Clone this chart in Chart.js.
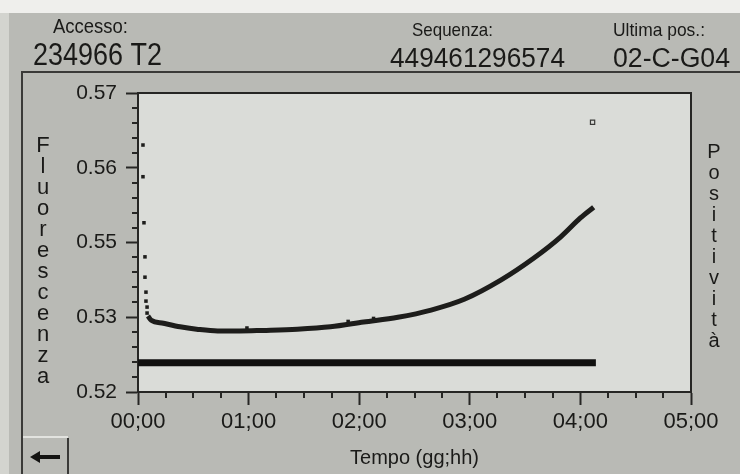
<!DOCTYPE html>
<html>
<head>
<meta charset="utf-8">
<script src="https://cdn.jsdelivr.net/npm/chart.js@4.4.0/dist/chart.umd.min.js"></script>
<style>
  html, body { margin: 0; padding: 0; background: #f0f0ee; }
  canvas { display: block; }
</style>
</head>
<body>
<canvas id="grafico" width="740" height="474"></canvas>
<script>
// curva di fluorescenza del flacone (tempo in giorni)
const tempoCurva = [0.09, 0.12, 0.23, 0.38, 0.53, 0.72, 0.92, 1.13, 1.44, 1.74, 2.04, 2.35, 2.65, 2.95, 3.28, 3.58, 3.82, 4.00, 4.12];
const fluorescenzaCurva = [0.5327, 0.5320, 0.5315, 0.5309, 0.5305, 0.5302, 0.5302, 0.5303, 0.5305, 0.5309, 0.5317, 0.5325, 0.5337, 0.5355, 0.5387, 0.5424, 0.5459, 0.5491, 0.5509];

// letture isolate (inizio incubazione e piccoli salti)
const tempoSparse = [0.045, 0.045, 0.054, 0.063, 0.063, 0.072, 0.072, 0.082, 0.082, 0.985, 1.90, 2.13];
const fluorescenzaSparse = [0.5613, 0.5560, 0.5483, 0.5426, 0.5392, 0.5367, 0.5352, 0.5342, 0.5332, 0.5307, 0.5318, 0.5323];

// barra di soglia e ultima lettura
const tempoSoglia = [0, 4.14];
const valoreSoglia = [0.5249, 0.5249];
const tempoUltima = [4.11];
const valoreUltima = [0.5651];

// assi
const valoriTickX = [0, 1, 2, 3, 4, 5];
const etichetteX = ["00;00", "01;00", "02;00", "03;00", "04;00", "05;00"];
const valoriTickY = [0.52, 0.5325, 0.545, 0.5575, 0.57];
const etichetteY = ["0.52", "0.53", "0.55", "0.56", "0.57"];

// intestazione
const titoliTesta = ["Accesso:", "Sequenza:", "Ultima pos.:"];
const valoriTesta = ["234966 T2", "449461296574", "02-C-G04"];
const titoloY = "Fluorescenza";
const titoloDestra = "Positività";

const FONT = '"Liberation Sans", Arial, Helvetica, sans-serif';
const INCHIOSTRO = '#1a1a18';
Chart.defaults.font.family = FONT;

function punti(xs, ys) {
  return xs.map((x, i) => ({ x: x, y: ys[i] }));
}

function scrivi(ctx, testo, x, y, px, larghezza) {
  ctx.save();
  ctx.font = px + 'px ' + FONT;
  const w = ctx.measureText(testo).width;
  ctx.translate(x, y);
  if (larghezza) ctx.scale(larghezza / w, 1);
  ctx.fillText(testo, 0, 0);
  ctx.restore();
}

function lettere(ctx, testo, cx, y0, passo, px) {
  ctx.save();
  ctx.font = px + 'px ' + FONT;
  ctx.textAlign = 'center';
  [...testo].forEach((c, i) => ctx.fillText(c, cx, y0 + i * passo));
  ctx.restore();
}

const schermo = {
  id: 'schermo',
  beforeDraw(chart) {
    const ctx = chart.ctx;
    const a = chart.chartArea;
    ctx.save();
    ctx.fillStyle = '#efefec';
    ctx.fillRect(0, 0, 740, 474);
    ctx.fillStyle = '#d3d4cf';
    ctx.fillRect(0, 13, 9, 461);
    ctx.fillStyle = '#b9bab5';
    ctx.fillRect(9, 13, 731, 461);
    ctx.fillStyle = '#dadcd8';
    ctx.fillRect(a.left, a.top, a.right - a.left, a.bottom - a.top);
    ctx.restore();
  },
  afterDraw(chart) {
    const ctx = chart.ctx;
    const a = chart.chartArea;
    const sx = chart.scales.x;
    const sy = chart.scales.y;
    ctx.save();
    ctx.strokeStyle = '#262624';

    // bordo del riquadro
    ctx.lineWidth = 2;
    ctx.beginPath();
    ctx.moveTo(a.left, a.top);
    ctx.lineTo(a.right, a.top);
    ctx.lineTo(a.right, a.bottom);
    ctx.stroke();

    // tacche minori
    ctx.lineWidth = 2;
    ctx.beginPath();
    for (let k = 1; k < 20; k++) {
      if (k % 4 === 0) continue;
      const px = Math.round(sx.getPixelForValue(k / 4));
      ctx.moveTo(px, a.bottom);
      ctx.lineTo(px, a.bottom + 6);
    }
    for (let k = 1; k < 20; k++) {
      if (k % 5 === 0) continue;
      const py = Math.round(sy.getPixelForValue(0.52 + k * 0.0025));
      ctx.moveTo(a.left - 6, py);
      ctx.lineTo(a.left, py);
    }
    ctx.stroke();

    // cornice dello schermo
    ctx.strokeStyle = '#3a3a38';
    ctx.lineWidth = 2;
    ctx.beginPath();
    ctx.moveTo(740, 72);
    ctx.lineTo(22, 72);
    ctx.lineTo(22, 474);
    ctx.stroke();

    // tasto indietro
    ctx.strokeStyle = '#e2e3df';
    ctx.beginPath();
    ctx.moveTo(23, 437);
    ctx.lineTo(68, 437);
    ctx.stroke();
    ctx.strokeStyle = '#3a3a38';
    ctx.beginPath();
    ctx.moveTo(68, 438);
    ctx.lineTo(68, 474);
    ctx.stroke();
    ctx.fillStyle = '#141412';
    ctx.fillRect(38, 455, 22, 4);
    ctx.beginPath();
    ctx.moveTo(30, 457);
    ctx.lineTo(40, 451);
    ctx.lineTo(40, 463);
    ctx.closePath();
    ctx.fill();

    // testi
    ctx.fillStyle = INCHIOSTRO;
    scrivi(ctx, titoliTesta[0], 53, 33, 20, 75);
    scrivi(ctx, valoriTesta[0], 33, 65, 31, 129);
    scrivi(ctx, titoliTesta[1], 412, 36, 19, 81);
    scrivi(ctx, valoriTesta[1], 390, 67, 27, 175);
    scrivi(ctx, titoliTesta[2], 613, 36, 19, 92);
    scrivi(ctx, valoriTesta[2], 613, 67, 27, 117);

    lettere(ctx, titoloY, 43, 152, 21, 22);
    lettere(ctx, titoloDestra, 714, 158, 21, 20);
    ctx.restore();
  }
};

new Chart(document.getElementById('grafico'), {
  type: 'line',
  data: {
    datasets: [
      {
        label: 'Fluorescenza',
        data: punti(tempoCurva, fluorescenzaCurva),
        borderColor: '#1d1d1b',
        borderWidth: 5,
        pointRadius: 0,
        cubicInterpolationMode: 'monotone',
        fill: false
      },
      {
        label: 'Letture',
        data: punti(tempoSparse, fluorescenzaSparse),
        showLine: false,
        pointStyle: 'rect',
        pointRadius: 2.5,
        backgroundColor: '#1d1d1b',
        borderColor: '#1d1d1b',
        borderWidth: 0
      },
      {
        label: 'Soglia',
        data: punti(tempoSoglia, valoreSoglia),
        borderColor: '#111110',
        borderWidth: 7,
        borderCapStyle: 'butt',
        pointRadius: 0
      },
      {
        label: 'Ultima',
        data: punti(tempoUltima, valoreUltima),
        showLine: false,
        pointStyle: 'rect',
        pointRadius: 3,
        backgroundColor: 'rgba(0,0,0,0)',
        borderColor: '#3a3a38',
        borderWidth: 1.2
      }
    ]
  },
  options: {
    responsive: false,
    animation: false,
    devicePixelRatio: 1,
    layout: { padding: { top: 93, right: 49, left: 0, bottom: 0 } },
    plugins: {
      legend: { display: false },
      tooltip: { enabled: false }
    },
    scales: {
      x: {
        type: 'linear',
        min: 0,
        max: 5,
        afterBuildTicks: s => { s.ticks = valoriTickX.map(v => ({ value: v })); },
        afterFit: s => { s.height = 82; },
        ticks: {
          callback: (v, i) => etichetteX[i],
          font: { size: 22 },
          color: INCHIOSTRO,
          padding: 4,
          maxRotation: 0,
          autoSkip: false
        },
        grid: { drawOnChartArea: false, tickLength: 13, tickWidth: 2, tickColor: '#262624' },
        border: { color: '#262624', width: 2 },
        title: {
          display: true,
          text: 'Tempo (gg;hh)',
          font: { size: 20 },
          color: INCHIOSTRO,
          padding: { top: 0, bottom: 4 }
        }
      },
      y: {
        type: 'linear',
        min: 0.52,
        max: 0.57,
        afterBuildTicks: s => { s.ticks = valoriTickY.map(v => ({ value: v })); },
        afterFit: s => { s.width = 138; },
        ticks: {
          callback: (v, i) => etichetteY[i],
          font: { size: 21 },
          color: INCHIOSTRO,
          padding: 9,
          autoSkip: false
        },
        grid: { drawOnChartArea: false, tickLength: 12, tickWidth: 2, tickColor: '#262624' },
        border: { color: '#262624', width: 2 }
      }
    }
  },
  plugins: [schermo]
});
</script>
</body>
</html>
